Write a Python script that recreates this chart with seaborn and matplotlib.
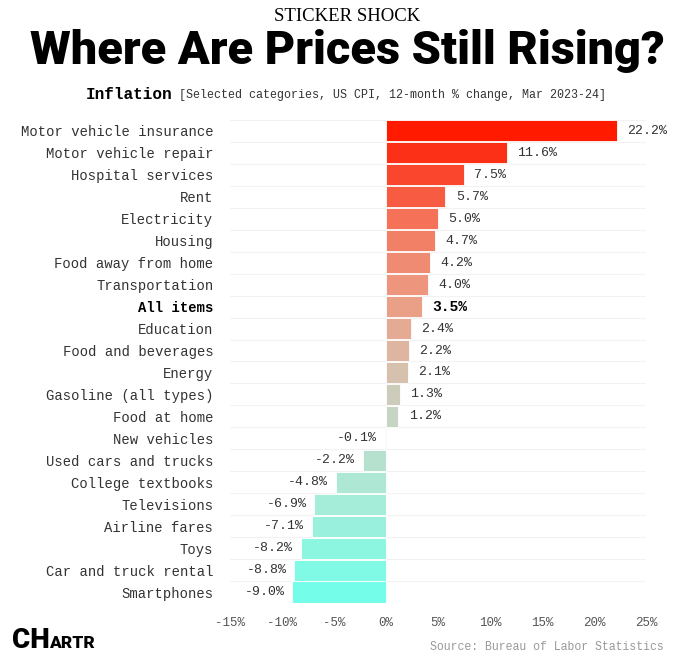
import numpy as np
import matplotlib.pyplot as plt
import seaborn as sns
import pandas as pd
from matplotlib.colors import LinearSegmentedColormap, to_hex

categories = [
    "Motor vehicle insurance", "Motor vehicle repair", "Hospital services",
    "Rent", "Electricity", "Housing", "Food away from home", "Transportation",
    "All items", "Education", "Food and beverages", "Energy",
    "Gasoline (all types)", "Food at home", "New vehicles",
    "Used cars and trucks", "College textbooks", "Televisions",
    "Airline fares", "Toys", "Car and truck rental", "Smartphones",
]
changes = [22.2, 11.6, 7.5, 5.7, 5.0, 4.7, 4.2, 4.0, 3.5, 2.4, 2.2, 2.1,
           1.3, 1.2, -0.1, -2.2, -4.8, -6.9, -7.1, -8.2, -8.8, -9.0]
xticks = [-15, -10, -5, 0, 5, 10, 15, 20, 25]
highlight = "All items"

df = pd.DataFrame({"category": categories, "change": changes})

# colour ramp by rank: red -> beige/grey -> mint
cmap = LinearSegmentedColormap.from_list(
    "chartr", ["#ff1a00", "#f4785e", "#e9a48c", "#c9d2c2", "#a8ecd8", "#74fee9"])
n = len(categories)
palette = {c: to_hex(cmap(i / (n - 1))) for i, c in enumerate(categories)}

sns.set_theme(style="white")
mono = "Liberation Mono"
heavy = ["Roboto", "DejaVu Sans"]

fig = plt.figure(figsize=(6.94, 6.64), dpi=100)
ax = fig.add_axes([0.3314, 0.0919, 0.5994, 0.7274])

sns.barplot(data=df, x="change", y="category", hue="category", palette=palette,
            orient="h", width=0.96, legend=False, ax=ax, saturation=1,
            edgecolor="white", linewidth=0.6)

# faint row separators
for y in np.arange(-0.5, n, 1.0):
    ax.axhline(y, color="#f2f2f2", lw=0.8, zorder=0)

ax.set_xlim(-15, 25)
ax.set_ylim(n - 0.5, -0.5)
ax.set_xticks(xticks)
ax.set_xticklabels([f"{t}%" for t in xticks], fontfamily=mono, fontsize=9,
                   color="#555555")
ax.set_xlabel("")
ax.set_ylabel("")
ax.tick_params(axis="x", length=0, pad=10)
ax.tick_params(axis="y", length=0, pad=12)
ax.set_yticks(range(n))
ax.set_yticklabels(categories, fontfamily=mono, fontsize=10, color="#333333")
for lbl in ax.get_yticklabels():
    if lbl.get_text() == highlight:
        lbl.set_fontweight("bold")
        lbl.set_color("black")
for s in ax.spines.values():
    s.set_visible(False)

# value labels
for i, (c, v) in enumerate(zip(categories, changes)):
    bold = c == highlight
    off = 1.0 if v >= 0 else -0.75
    ax.text(v + off, i, f"{v:.1f}%", ha="left" if v >= 0 else "right",
            va="center", fontfamily=mono, fontsize=10.5 if bold else 9.5,
            fontweight="bold" if bold else "normal",
            color="black" if bold else "#333333")

# titles
fig.text(0.5, 0.9745, "STICKER SHOCK", ha="center", va="center",
         family=["Liberation Serif", "DejaVu Serif"], fontsize=13.5, color="black")
title = fig.text(0.5, 0.9036, "Where Are Prices Still Rising?", ha="center",
                 va="baseline", family=heavy, fontweight="heavy",
                 fontstretch="condensed", fontsize=36, color="black")
# shrink the headline so it spans the same width as the original
fig.canvas.draw()
w = title.get_window_extent().width
title.set_fontsize(36 * 635 / w)

fig.text(0.123, 0.857, "Inflation", ha="left", va="center", family=mono,
         fontweight="bold", fontsize=11.5, color="black")
fig.text(0.258, 0.857,
         "[Selected categories, US CPI, 12-month % change, Mar 2023-24]",
         ha="left", va="center", family=mono, fontsize=8.4, color="#333333")

# footer
fig.text(0.957, 0.026, "Source: Bureau of Labor Statistics", ha="right",
         va="center", family=mono, fontsize=8.3, color="#999999")
fig.text(0.017, 0.035, "CH", ha="left", va="center", family=heavy,
         fontweight="heavy", fontsize=20, color="black")
fig.text(0.070, 0.031, "ARTR", ha="left", va="center", family=heavy,
         fontweight="heavy", fontsize=12.5, color="black")

fig.savefig("out.png", dpi=100, facecolor="white")
